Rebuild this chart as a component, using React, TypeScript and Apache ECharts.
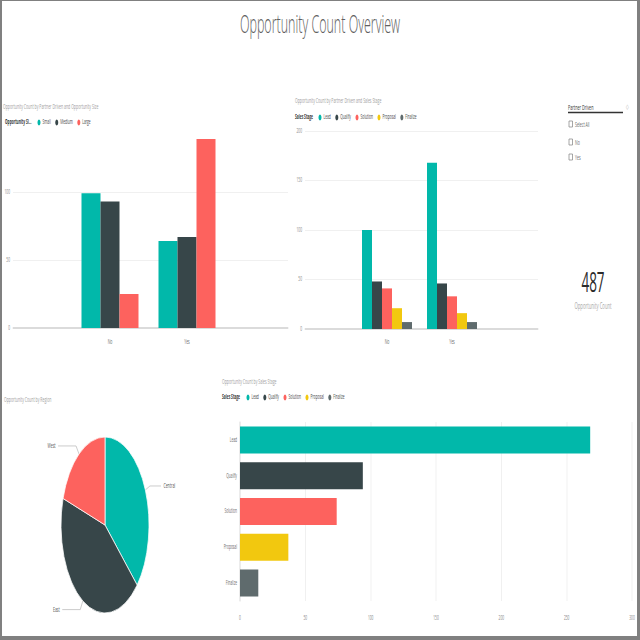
import React, { useEffect, useRef } from "react";
import * as echarts from "echarts";

// ---------- data ----------
const pageTitle = "Opportunity Count Overview";

const partnerCategories = ["No", "Yes"];
const sizeNames = ["Small", "Medium", "Large"];
const sizeSmall = [99, 64];
const sizeMedium = [93, 67];
const sizeLarge = [25, 139];

const stageNames = ["Lead", "Qualify", "Solution", "Proposal", "Finalize"];
const stageLead = [100, 168];
const stageQualify = [48, 46];
const stageSolution = [41, 33];
const stageProposal = [21, 16];
const stageFinalize = [7, 7];

const stageTotals = [268, 94, 74, 37, 14];

const regionNames = ["Central", "East", "West"];
const regionCounts = [180, 209, 98];

const slicerTitle = "Partner Driven";
const slicerItems = ["Select All", "No", "Yes"];
const totalCount = 487;
const cardLabel = "Opportunity Count";

// ---------- styling ----------
const PALETTE = ["#01B8AA", "#374649", "#FD625E", "#F2C80F", "#5F6B6D"];
const FONT = "'Open Sans', 'Segoe UI', 'DejaVu Sans', sans-serif";
const SUB = { fontSize: 7, color: "#a0a0a0", fontWeight: "normal" as const, fontFamily: FONT };
const AXIS_LABEL = { fontSize: 6.5, color: "#8a8a8a", fontFamily: FONT };
const CAT_LABEL = { fontSize: 7, color: "#6a6a6a", fontFamily: FONT };
const GRIDLINE = "#ebebeb";
const PIE_LINE2: Record<string, number> = { Central: 22, East: 36, West: 36 };

function buildOption(): any {
  const sizeSeriesData = [sizeSmall, sizeMedium, sizeLarge];
  const stageSeriesData = [stageLead, stageQualify, stageSolution, stageProposal, stageFinalize];

  const legendCommon = {
    icon: "circle",
    itemWidth: 6,
    itemHeight: 6,
    itemGap: 9,
    padding: 0,
    orient: "horizontal",
    textStyle: { fontSize: 6.5, color: "#444", fontFamily: FONT, padding: [0, 0, 0, -1] },
  };

  const boldLabel = (text: string, x: number, y: number) => ({
    type: "text",
    x,
    y,
    style: { text, font: `bold 6.5px ${FONT}`, fill: "#333", verticalAlign: "middle" },
  });

  const graphics: any[] = [
    boldLabel("Opportunity Si...", 10, 122),
    boldLabel("Sales Stage", 590, 117),
    boldLabel("Sales Stage", 444, 397),
    // slicer
    { type: "text", x: 1136, y: 107, style: { text: slicerTitle, font: `7.5px ${FONT}`, fill: "#333", verticalAlign: "middle" } },
    { type: "line", shape: { x1: 1136, y1: 112.5, x2: 1246, y2: 112.5 }, style: { stroke: "#333", lineWidth: 1.5 } },
    { type: "text", x: 1252, y: 106, style: { text: "◇", font: `7px 'DejaVu Sans'`, fill: "#aaa", verticalAlign: "middle" } },
    // card
    { type: "text", x: 1186, y: 281, style: { text: String(totalCount), font: `27px ${FONT}`, lineHeight: 28, fill: "#2b2b2b", align: "center", verticalAlign: "middle" } },
    { type: "text", x: 1186, y: 306, style: { text: cardLabel, font: `8.5px ${FONT}`, lineHeight: 9, fill: "#a8a8a8", align: "center", verticalAlign: "middle" } },
  ];
  const slicerY = [124, 142, 157];
  slicerItems.forEach((t, i) => {
    graphics.push({ type: "rect", shape: { x: 1138, y: slicerY[i] - 3, width: 7, height: 6 }, style: { fill: "#fff", stroke: "#888", lineWidth: 1 } });
    graphics.push({ type: "text", x: 1150, y: slicerY[i], style: { text: t, font: `7px ${FONT}`, fill: "#666", verticalAlign: "middle" } });
  });

  return {
    animation: false,
    backgroundColor: "#fff",
    textStyle: { fontFamily: FONT },
    title: [
      { text: pageTitle, left: "center", top: 11, padding: 0, textStyle: { fontSize: 25, fontWeight: 300, color: "#606060", fontFamily: FONT } },
      { text: "Opportunity Count by Partner Driven and Opportunity Size", left: 6, top: 103, padding: 0, textStyle: SUB },
      { text: "Opportunity Count by Partner Driven and Sales Stage", left: 590, top: 97, padding: 0, textStyle: SUB },
      { text: "Opportunity Count by Region", left: 8, top: 396, padding: 0, textStyle: SUB },
      { text: "Opportunity Count by Sales Stage", left: 444, top: 378, padding: 0, textStyle: SUB },
    ],
    legend: [
      { ...legendCommon, data: sizeNames, left: 75, top: 119 },
      { ...legendCommon, data: stageNames, left: 637, top: 114 },
      { ...legendCommon, data: stageNames, left: 493, top: 394 },
    ],
    grid: [
      { left: 26, width: 550, top: 124, height: 204 },
      { left: 143, width: 308, top: 124, height: 204 },
      { left: 610, width: 466, top: 131, height: 198 },
      { left: 709, width: 260, top: 131, height: 198 },
      { left: 480, width: 784, top: 422, height: 179 },
    ],
    xAxis: [
      { gridIndex: 0, type: "value", min: 0, max: 1, axisLine: { show: true, lineStyle: { color: "#cfcfcf", width: 1.5 } }, axisLabel: { show: false }, axisTick: { show: false }, splitLine: { show: false } },
      { gridIndex: 1, type: "category", data: partnerCategories, axisLine: { show: false }, axisTick: { show: false }, axisLabel: { ...CAT_LABEL, margin: 10 } },
      { gridIndex: 2, type: "value", min: 0, max: 1, axisLine: { show: true, lineStyle: { color: "#cfcfcf", width: 1.5 } }, axisLabel: { show: false }, axisTick: { show: false }, splitLine: { show: false } },
      { gridIndex: 3, type: "category", data: partnerCategories, axisLine: { show: false }, axisTick: { show: false }, axisLabel: { ...CAT_LABEL, margin: 9 } },
      { gridIndex: 4, type: "value", min: 0, max: 300, interval: 50, axisLine: { show: false }, axisTick: { show: false }, axisLabel: { ...AXIS_LABEL, margin: 14 }, splitLine: { show: true, lineStyle: { color: GRIDLINE, width: 1.5 } } },
    ],
    yAxis: [
      { gridIndex: 0, type: "value", min: 0, max: 150, interval: 50, axisLine: { show: false }, axisTick: { show: false }, axisLabel: { ...AXIS_LABEL, margin: 6, showMaxLabel: false }, splitLine: { show: true, showMinLine: false, showMaxLine: false, lineStyle: { color: GRIDLINE } } },
      { gridIndex: 1, type: "value", min: 0, max: 150, show: false },
      { gridIndex: 2, type: "value", min: 0, max: 200, interval: 50, axisLine: { show: false }, axisTick: { show: false }, axisLabel: { ...AXIS_LABEL, margin: 6 }, splitLine: { show: true, showMinLine: false, lineStyle: { color: GRIDLINE } } },
      { gridIndex: 3, type: "value", min: 0, max: 200, show: false },
      { gridIndex: 4, type: "category", data: stageNames, inverse: true, axisLine: { show: true, lineStyle: { color: "#d8d8d8", width: 1.5 } }, axisTick: { show: false }, axisLabel: { ...CAT_LABEL, fontSize: 6.5, margin: 6 } },
    ],
    series: [
      ...sizeNames.map((name, i) => ({
        type: "bar",
        name,
        xAxisIndex: 1,
        yAxisIndex: 1,
        data: sizeSeriesData[i],
        barWidth: 38,
        barGap: "0%",
        itemStyle: { color: PALETTE[i] },
      })),
      ...stageNames.map((name, i) => ({
        type: "bar",
        name,
        xAxisIndex: 3,
        yAxisIndex: 3,
        data: stageSeriesData[i],
        barWidth: 20,
        barGap: "0%",
        itemStyle: { color: PALETTE[i] },
      })),
      ...stageNames.map((name, i) => ({
        type: "bar",
        name,
        xAxisIndex: 4,
        yAxisIndex: 4,
        stack: "stage",
        data: stageNames.map((_, j) => (j === i ? stageTotals[i] : "-")),
        barWidth: 27,
        itemStyle: { color: PALETTE[i] },
      })),
      {
        type: "pie",
        name: "Region",
        center: [210, 525],
        radius: 88,
        startAngle: 90,
        clockwise: true,
        data: regionNames.map((n, i) => ({
          name: n,
          value: regionCounts[i],
          itemStyle: { color: PALETTE[i] },
          labelLine: { length2: PIE_LINE2[n] },
        })),
        itemStyle: { borderColor: "#fff", borderWidth: 1 },
        label: { show: true, position: "outside", fontSize: 7, color: "#555", fontFamily: FONT, formatter: "{b}" },
        labelLine: { show: true, length: 10, length2: 34, lineStyle: { color: "#bbb", width: 1 } },
        emphasis: { disabled: true },
      },
    ],
    graphic: graphics,
  };
}

export default function App() {
  const ref = useRef<HTMLDivElement>(null);
  useEffect(() => {
    if (!ref.current) return;
    const chart = echarts.init(ref.current, undefined, { renderer: "svg" });
    chart.setOption(buildOption());
    return () => chart.dispose();
  }, []);
  return (
    <div style={{ position: "fixed", left: 0, top: 0, width: 640, height: 640, overflow: "hidden", background: "#fff" }}>
      <div
        ref={ref}
        style={{ position: "absolute", left: 0, top: 0, width: 1280, height: 640, transform: "scaleX(0.5)", transformOrigin: "0 0" }}
      />
      <div
        style={{
          position: "absolute",
          left: 0,
          top: 0,
          width: 640,
          height: 640,
          boxSizing: "border-box",
          borderStyle: "solid",
          borderColor: "#808080",
          borderWidth: "1px 3px 4px 2px",
          pointerEvents: "none",
        }}
      />
    </div>
  );
}
